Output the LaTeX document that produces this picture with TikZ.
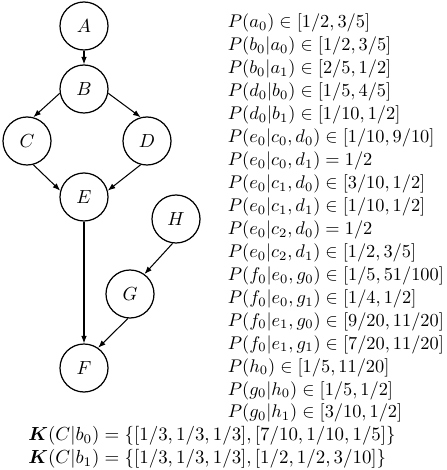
\documentclass[tikz,border=0pt]{standalone}
\usepackage{graphicx}
\usepackage{amsmath,bm}
\usetikzlibrary{arrows.meta}
\newcommand{\sline}[1]{\scalebox{0.97}{$#1$}}
\begin{document}
\begin{tikzpicture}[x=0.529pt,y=-0.529pt,
  vnode/.style={draw,circle,minimum size=25.4pt,inner sep=0pt,line width=0.65pt},
  conn/.style={line width=0.55pt,-{Latex[length=4pt,width=3pt]}},
  ptext/.style={anchor=base west,inner sep=0pt},
  ktext/.style={anchor=base west,inner sep=0pt}]
\useasboundingbox (0,0) rectangle (446,470);
% graph
\node[vnode] (A) at (84,26) {$A$};
\node[vnode] (B) at (84,89) {$B$};
\node[vnode] (C) at (27,141) {$C$};
\node[vnode] (D) at (147,141) {$D$};
\node[vnode] (E) at (84,197) {$E$};
\node[vnode] (H) at (176,219) {$H$};
\node[vnode] (G) at (130,294) {$G$};
\node[vnode] (F) at (84,368) {$F$};
\draw[conn] (A.south) -- (B.north);
\draw[conn] (B.190) -- (C.75);
\draw[conn] (B.-10) -- (D.105);
\draw[conn] (C.-75) -- (E.165);
\draw[conn] (D.255) -- (E.15);
\draw[conn] (E.south) -- (F.north);
\draw[conn] (H.262) -- (G.54);
\draw[conn] (G.265) -- (F.55);
% probabilities
\node[ptext] (t1) at (227.5,28) {\sline{P(a_0) \in [1/2, 3/5]}};
\node[ptext] (t2) at (227.5,50.94) {\sline{P(b_0|a_0) \in [1/2, 3/5]}};
\node[ptext] (t3) at (227.5,73.88) {\sline{P(b_0|a_1) \in [2/5, 1/2]}};
\node[ptext] (t4) at (227.5,96.82) {\sline{P(d_0|b_0) \in [1/5, 4/5]}};
\node[ptext] (t5) at (227.5,119.76) {\sline{P(d_0|b_1) \in [1/10, 1/2]}};
\node[ptext] (t6) at (227.5,142.7) {\sline{P(e_0|c_0, d_0) \in [1/10, 9/10]}};
\node[ptext] (t7) at (227.5,165.64) {\sline{P(e_0|c_0, d_1) = 1/2}};
\node[ptext] (t8) at (227.5,188.58) {\sline{P(e_0|c_1, d_0) \in [3/10, 1/2]}};
\node[ptext] (t9) at (227.5,211.52) {\sline{P(e_0|c_1, d_1) \in [1/10, 1/2]}};
\node[ptext] (t10) at (227.5,234.46) {\sline{P(e_0|c_2, d_0) = 1/2}};
\node[ptext] (t11) at (227.5,257.4) {\sline{P(e_0|c_2, d_1) \in [1/2, 3/5]}};
\node[ptext] (t12) at (227.5,280.34) {\sline{P(f_0|e_0, g_0) \in [1/5, 51/100]}};
\node[ptext] (t13) at (227.5,303.28) {\sline{P(f_0|e_0, g_1) \in [1/4, 1/2]}};
\node[ptext] (t14) at (227.5,326.22) {\sline{P(f_0|e_1, g_0) \in [9/20, 11/20]}};
\node[ptext] (t15) at (227.5,349.16) {\sline{P(f_0|e_1, g_1) \in [7/20, 11/20]}};
\node[ptext] (t16) at (227.5,372.1) {\sline{P(h_0) \in [1/5, 11/20]}};
\node[ptext] (t17) at (227.5,395.04) {\sline{P(g_0|h_0) \in [1/5, 1/2]}};
\node[ptext] (t18) at (227.5,417.98) {\sline{P(g_0|h_1) \in [3/10, 1/2]}};
\node[ktext] (k1) at (28,440.92) {$\bm{K}(C|b_0) = \{[1/3, 1/3, 1/3], [7/10, 1/10, 1/5]\}$};
\node[ktext] (k2) at (28,463.86) {$\bm{K}(C|b_1) = \{[1/3, 1/3, 1/3], [1/2, 1/2, 3/10]\}$};
\end{tikzpicture}
\end{document}
